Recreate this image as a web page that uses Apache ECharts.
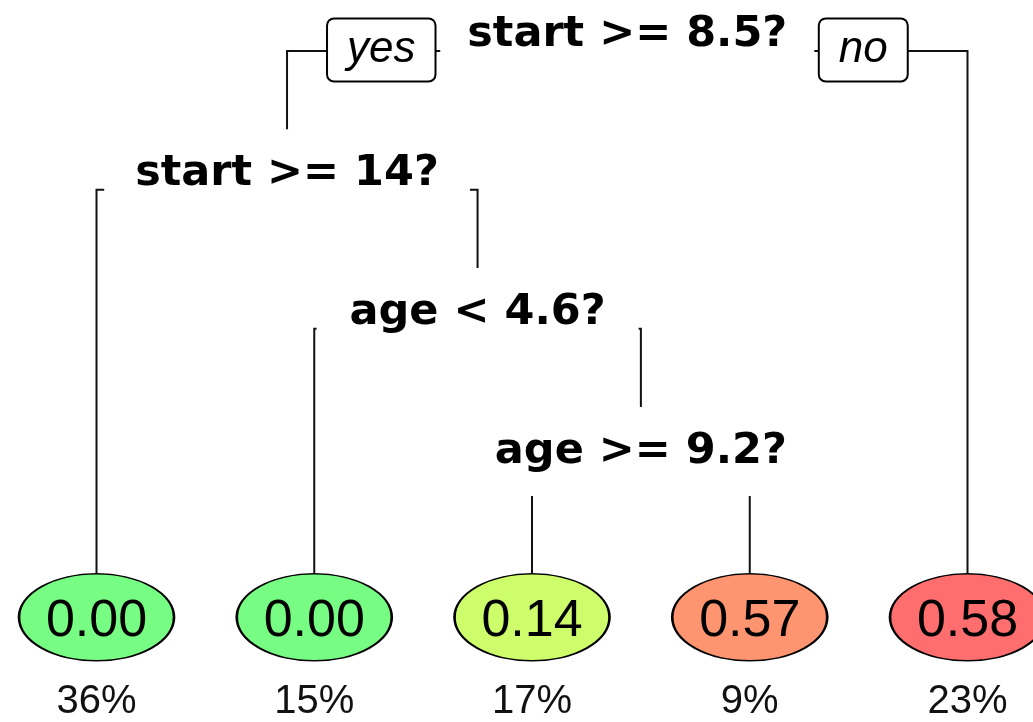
<!DOCTYPE html>
<html>
<head>
<meta charset="utf-8">
<script src="https://cdn.jsdelivr.net/npm/echarts@6/dist/echarts.min.js"></script>
<style>
html,body{margin:0;padding:0;background:#fff;}
#chart{width:1033px;height:722px;}
</style>
</head>
<body>
<div id="chart"></div>
<script>
// ---------------- data ----------------
const splitLabels  = ['start >= 8.5?', 'start >= 14?', 'age < 4.6?', 'age >= 9.2?'];
// children of each split: 's#' = split node, 'l#' = leaf
const splitYes     = ['s1', 'l0', 'l1', 'l2'];
const splitNo      = ['l4', 's2', 's3', 'l3'];
const leafValues   = [0.00, 0.00, 0.14, 0.57, 0.58];
const leafPercents = [36, 15, 17, 9, 23];
const branchLabels = ['yes', 'no'];

// ---------------- style ----------------
const leafColors = ['#77FD83', '#77FD83', '#CDFD6B', '#FE9570', '#FE6E6E'];
const splitPadX  = [27, 31, 33, 28];

// ---------------- layout (tree units) ----------------
const LEAF_ROW = 4.21;     // row for leaf ellipses
const PCT_ROW = 4.82;      // row for percentages
const BRANCH_DROP = 0.13;  // horizontal branch sits slightly below split text

function layoutTree() {
  const pos = {};
  function walk(key, depth) {
    const i = +key.slice(1);
    if (key[0] === 'l') { pos[key] = { x: i, y: LEAF_ROW }; return pos[key]; }
    const a = walk(splitYes[i], depth + 1);
    const b = walk(splitNo[i], depth + 1);
    pos[key] = { x: (a.x + b.x) / 2, y: depth };
    return pos[key];
  }
  walk('s0', 0);
  return pos;
}
const pos = layoutTree();

const edges = [];
splitLabels.forEach((_, i) => {
  const p = pos['s' + i];
  const by = p.y + BRANCH_DROP;
  [splitYes[i], splitNo[i]].forEach(k => {
    const c = pos[k];
    edges.push({ coords: [[p.x, by], [c.x, by], [c.x, c.y]] });
  });
});

const chart = echarts.init(document.getElementById('chart'), null, { renderer: 'canvas' });
const root = pos['s0'];
const hidden = { color: 'rgba(0,0,0,0)', opacity: 1 };

chart.setOption({
  animation: false,
  backgroundColor: '#fff',
  grid: { left: 0, right: 0, top: 0, bottom: 0 },
  xAxis: { type: 'value', min: -0.4432, max: 4.3008, show: false },
  yAxis: { type: 'value', min: -0.2378, max: 4.964, inverse: true, show: false },
  series: [
    {
      type: 'lines',
      coordinateSystem: 'cartesian2d',
      polyline: true,
      silent: true,
      z: 1,
      lineStyle: { color: '#111', width: 2, opacity: 1 },
      data: edges
    },
    {
      type: 'scatter',
      z: 3,
      silent: true,
      symbolSize: 1,
      itemStyle: hidden,
      label: {
        show: true, position: 'inside', formatter: '{b}', offset: [0, 2],
        fontFamily: 'DejaVu Sans', fontWeight: 'bold', fontSize: 43, color: '#000',
        backgroundColor: '#fff', opacity: 1
      },
      data: splitLabels.map((t, i) => ({
        name: t, value: [pos['s' + i].x, pos['s' + i].y],
        label: { padding: [23, splitPadX[i]] }
      }))
    },
    {
      type: 'scatter',
      z: 4,
      silent: true,
      symbolSize: 1,
      itemStyle: hidden,
      label: {
        show: true, position: 'inside', formatter: '{b}',
        fontFamily: 'Liberation Sans', fontStyle: 'italic', fontSize: 44, color: '#000',
        backgroundColor: '#fff', borderColor: '#000', borderWidth: 2, borderRadius: 6,
        padding: [8, 19], lineHeight: 45, opacity: 1
      },
      data: branchLabels.map((t, i) => ({
        name: t, value: [root.x, root.y],
        label: { offset: i === 0 ? [-246, 17] : [236, 17] }
      }))
    },
    {
      type: 'scatter',
      z: 5,
      silent: true,
      symbol: 'path://M0,50A50,50,0,1,1,100,50A50,50,0,1,1,0,50Z',
      symbolSize: [155, 87],
      itemStyle: { borderColor: '#000', borderWidth: 2, opacity: 1 },
      label: {
        show: true, position: 'inside',
        formatter: p => p.data.v.toFixed(2),
        fontFamily: 'Liberation Sans', fontSize: 52, color: '#000', offset: [0, 4], opacity: 1
      },
      data: leafValues.map((v, i) => ({
        v: v, value: [pos['l' + i].x, pos['l' + i].y],
        itemStyle: { color: leafColors[i] }
      }))
    },
    {
      type: 'scatter',
      z: 5,
      silent: true,
      symbolSize: 1,
      itemStyle: hidden,
      label: {
        show: true, position: 'inside',
        formatter: p => p.data.p + '%',
        fontFamily: 'Liberation Sans', fontSize: 40, color: '#111', opacity: 1
      },
      data: leafPercents.map((p, i) => ({ p: p, value: [pos['l' + i].x, PCT_ROW] }))
    }
  ]
});
</script>
</body>
</html>
